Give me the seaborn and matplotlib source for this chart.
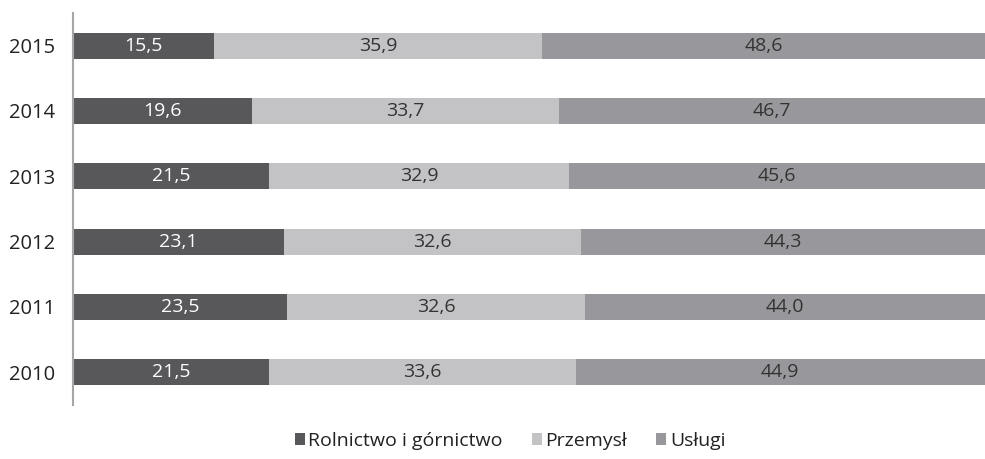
import matplotlib
matplotlib.use("Agg")
import matplotlib.pyplot as plt
import seaborn as sns
import pandas as pd
from matplotlib.patches import Patch

# Data
years = ["2015", "2014", "2013", "2012", "2011", "2010"]
rolnictwo = [15.5, 19.6, 21.5, 23.1, 23.5, 21.5]
przemysl = [35.9, 33.7, 32.9, 32.6, 32.6, 33.6]
uslugi = [48.6, 46.7, 45.6, 44.3, 44.0, 44.9]

series_names = ["Rolnictwo i górnictwo", "Przemysł", "Usługi"]
colors = ["#58585a", "#c3c3c5", "#98989c"]
label_colors = ["white", "#333333", "#333333"]

sns.set_style("white")
plt.rcParams["font.family"] = ["Open Sans", "DejaVu Sans"]

df = pd.DataFrame({"year": years, "r": rolnictwo, "p": przemysl, "u": uslugi})
df["c1"] = df["r"]
df["c2"] = df["r"] + df["p"]
df["c3"] = df["r"] + df["p"] + df["u"]

fig = plt.figure(figsize=(9.85, 4.59), dpi=100)
ax = fig.add_axes([73 / 985, 1 - 405 / 459, 1 - 73 / 985, (405 - 13) / 459])

# Stacked bars: draw cumulative totals from longest to shortest
for col, color in zip(["c3", "c2", "c1"], colors[::-1]):
    sns.barplot(data=df, y="year", x=col, orient="h", color=color,
                width=0.4, linewidth=0, saturation=1, ax=ax)

# Value labels
vals = [rolnictwo, przemysl, uslugi]
for i in range(len(years)):
    left = 0
    for s in range(3):
        v = vals[s][i]
        ax.text(left + v / 2, i, f"{v:.1f}".replace(".", ","), ha="center",
                va="center", fontsize=14, color=label_colors[s])
        left += v

ax.set_xlim(0, 100)
ax.set_ylim(5.5, -0.5)
ax.set_xlabel("")
ax.set_ylabel("")
ax.set_xticks([])
ax.tick_params(axis="y", length=0, pad=13, labelsize=14.5, labelcolor="#222222")
for side in ["top", "right", "bottom"]:
    ax.spines[side].set_visible(False)
ax.spines["left"].set_color("#a6a6a6")
ax.spines["left"].set_linewidth(1.5)

handles = [Patch(facecolor=c, edgecolor="none") for c in colors]
fig.legend(handles, series_names, loc="center", bbox_to_anchor=(510 / 985, 1 - 441 / 459),
           ncol=3, frameon=False, fontsize=14, handlelength=0.52, handleheight=0.52,
           handletextpad=0.18, columnspacing=1.5, labelcolor="#222222")

fig.savefig("out.png", dpi=100)
